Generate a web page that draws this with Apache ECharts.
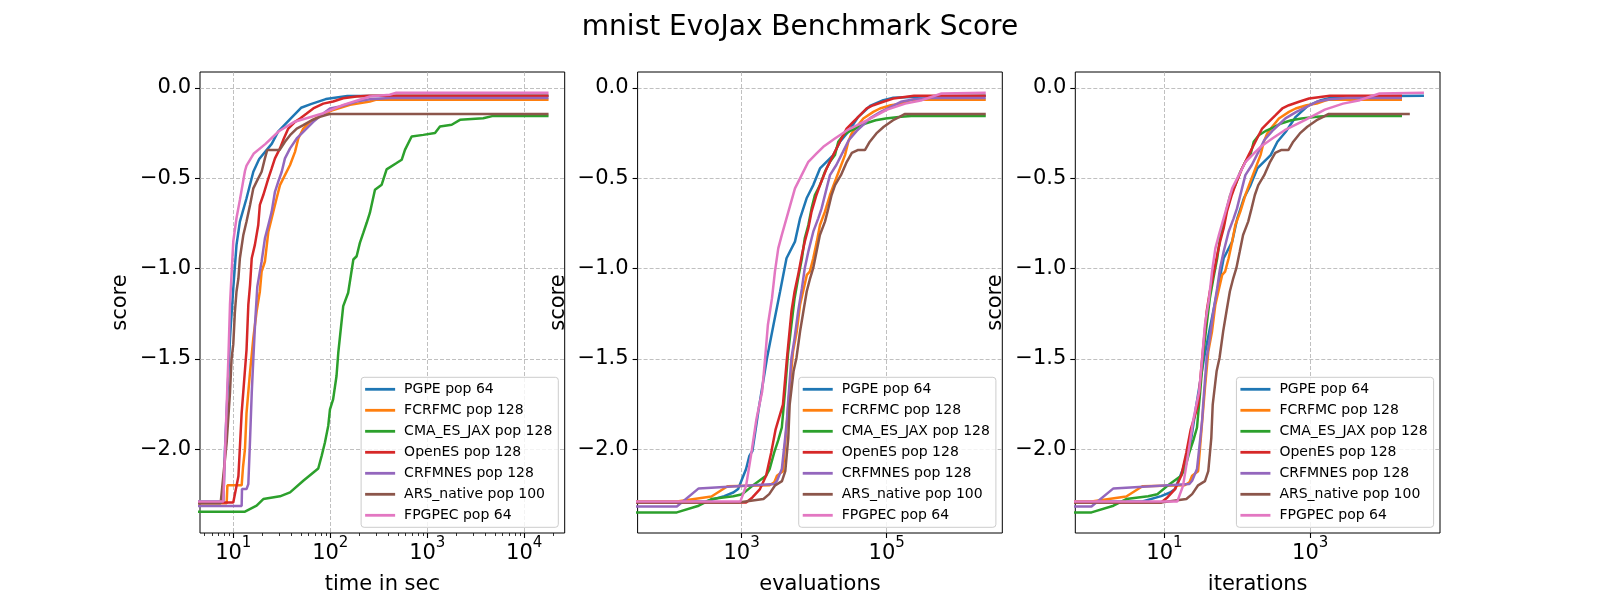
<!DOCTYPE html>
<html lang="en">
<head>
<meta charset="UTF-8">
<title>mnist EvoJax Benchmark Score</title>
<script src="https://cdn.jsdelivr.net/npm/echarts@6/dist/echarts.min.js"></script>
</head>
<body style="margin:0">
<div id="main" style="width:1600px;height:600px;"></div>
<script>
// best score so far
// each run: [time in sec, score] and [iteration, score]; evaluations = iteration * pop
var names = ['PGPE pop 64', 'FCRFMC pop 128', 'CMA_ES_JAX pop 128', 'OpenES pop 128',
             'CRFMNES pop 128', 'ARS_native pop 100', 'FPGPEC pop 64'];
var pops = [64, 128, 128, 128, 128, 100, 64];
var colors = ['#1f77b4', '#ff7f0e', '#2ca02c', '#d62728', '#9467bd', '#8c564b', '#e377c2'];

var pgpeTime = [[0,-2.29],[7.9,-2.29],[8.2,-2.01],[9.25,-1.385],[10,-1.109],[10.8,-0.869],[11.7,-0.74],[13.7,-0.611],[16.1,-0.464],[18.5,-0.394],[24.9,-0.31],[29,-0.242],[39,-0.17],[50,-0.11],[63,-0.09],[90,-0.062],[150,-0.045],[17800,-0.044]];
var pgpeIter = [[0,-2.29],[5,-2.29],[9,-2.26],[12,-2.24],[14,-2.22],[18,-2.11],[20,-2.037],[22,-2.01],[27,-1.772],[35,-1.495],[43,-1.311],[53,-1.127],[65,-0.943],[85,-0.851],[100,-0.722],[123,-0.611],[152,-0.538],[188,-0.446],[287,-0.372],[355,-0.298],[462,-0.243],[634,-0.16],[920,-0.1],[1403,-0.068],[1928,-0.055],[5890,-0.046],[36300,-0.044]];

var fcrfmcTime = [[0,-2.30],[8.55,-2.30],[8.7,-2.20],[12.2,-2.20],[12.6,-2.10],[13.2,-2.0],[13.7,-1.80],[14.9,-1.57],[16.1,-1.385],[17.4,-1.238],[18.8,-1.127],[19.6,-1.017],[21.2,-0.961],[23,-0.796],[24.9,-0.722],[28,-0.611],[30.3,-0.538],[34.1,-0.483],[38.5,-0.427],[43.3,-0.354],[46.8,-0.28],[52.7,-0.225],[61.8,-0.188],[75,-0.16],[107,-0.122],[160,-0.094],[256,-0.075],[300,-0.065],[17800,-0.065]];
var fcrfmcIter = [[0,-2.29],[1,-2.29],[3,-2.262],[5,-2.205],[19,-2.2],[22,-2.184],[24,-2.147],[29,-2.122],[33,-1.845],[36,-1.661],[40,-1.459],[45,-1.348],[50,-1.2],[55,-1.127],[62,-1.035],[68,-1.017],[76,-0.943],[85,-0.851],[94,-0.759],[110,-0.685],[129,-0.593],[151,-0.519],[177,-0.446],[208,-0.372],[231,-0.298],[257,-0.252],[301,-0.215],[372,-0.169],[511,-0.133],[631,-0.114],[891,-0.096],[1225,-0.087],[1679,-0.068],[1820,-0.065],[18150,-0.065]];

var cmaTime = [[0,-2.346],[13.2,-2.346],[17.4,-2.313],[20.4,-2.276],[30.3,-2.261],[38.5,-2.239],[52.7,-2.175],[75.2,-2.107],[81.5,-2.037],[88.1,-1.963],[95.3,-1.871],[99.3,-1.779],[107,-1.724],[116,-1.595],[121,-1.466],[136,-1.208],[153,-1.134],[173,-0.95],[187,-0.932],[202,-0.858],[219,-0.803],[237,-0.748],[256,-0.692],[289,-0.564],[339,-0.536],[381,-0.451],[483,-0.416],[545,-0.398],[589,-0.343],[690,-0.269],[910,-0.26],[1202,-0.25],[1352,-0.214],[1786,-0.204],[2173,-0.177],[3776,-0.168],[4786,-0.155],[17800,-0.155]];
var cmaIter = [[0,-2.35],[1,-2.35],[2,-2.313],[3,-2.276],[6,-2.261],[8,-2.249],[11,-2.203],[17,-2.147],[19,-2.11],[22,-2.018],[25,-1.95],[28,-1.88],[31,-1.68],[34,-1.477],[38,-1.311],[42,-1.164],[47,-1.054],[53,-0.943],[58,-0.833],[65,-0.759],[72,-0.667],[80,-0.593],[94,-0.538],[110,-0.464],[129,-0.409],[151,-0.372],[168,-0.298],[197,-0.262],[251,-0.236],[309,-0.22],[398,-0.197],[550,-0.179],[759,-0.169],[1230,-0.16],[1700,-0.155],[18150,-0.155]];

var openesTime = [[0,-2.295],[10,-2.295],[10.4,-2.285],[11.3,-2.15],[12.2,-1.8],[13.7,-1.45],[14.3,-1.2],[14.9,-1.09],[15.5,-0.943],[16.7,-0.869],[18.1,-0.759],[18.8,-0.648],[20.4,-0.593],[23,-0.501],[24.9,-0.446],[26.9,-0.39],[30.3,-0.335],[32.7,-0.289],[36.9,-0.225],[43.3,-0.188],[48.8,-0.169],[57.1,-0.142],[66.8,-0.114],[84.7,-0.087],[107,-0.075],[136,-0.057],[187,-0.048],[250,-0.044],[17800,-0.044]];
var openesIter = [[0,-2.295],[9,-2.295],[11,-2.267],[14,-2.221],[17,-2.147],[20,-2.018],[23,-1.89],[29,-1.753],[33,-1.495],[38,-1.238],[42,-1.127],[47,-1.035],[53,-0.924],[58,-0.851],[65,-0.777],[72,-0.685],[84,-0.593],[94,-0.538],[116,-0.446],[143,-0.372],[177,-0.298],[219,-0.225],[270,-0.188],[335,-0.151],[414,-0.114],[511,-0.096],[702,-0.077],[964,-0.059],[1862,-0.044],[18150,-0.044]];

var crfmnesTime = [[0,-2.315],[12.2,-2.315],[12.3,-2.221],[13.7,-2.221],[14.3,-2.193],[14.9,-1.945],[15.5,-1.69],[16.1,-1.5],[16.8,-1.3],[17.7,-1.1],[18.8,-1.017],[19.6,-0.961],[21.2,-0.833],[23,-0.759],[24.9,-0.685],[26.9,-0.575],[29.1,-0.519],[31.6,-0.464],[34.1,-0.39],[38.5,-0.335],[45.1,-0.28],[52.7,-0.243],[66.8,-0.188],[84.7,-0.142],[99.3,-0.114],[126,-0.103],[187,-0.075],[256,-0.063],[412,-0.056],[17800,-0.056]];
var crfmnesIter = [[0,-2.317],[1,-2.317],[2,-2.217],[22,-2.193],[24,-2.175],[28,-2.11],[31,-1.945],[33,-1.834],[34,-1.753],[38,-1.495],[42,-1.385],[47,-1.238],[53,-1.109],[58,-0.998],[65,-0.906],[76,-0.796],[89,-0.722],[99,-0.667],[116,-0.556],[129,-0.483],[158,-0.427],[195,-0.354],[234,-0.29],[302,-0.238],[380,-0.2],[457,-0.169],[646,-0.133],[891,-0.105],[1225,-0.077],[1862,-0.063],[3162,-0.056],[18150,-0.056]];

var arsTime = [[0,-2.30],[7.4,-2.30],[7.6,-2.24],[7.9,-2.147],[8.55,-1.963],[9.25,-1.687],[9.6,-1.5],[10,-1.42],[10.4,-1.238],[10.8,-1.127],[11.3,-1.054],[11.7,-0.943],[12.7,-0.814],[13.7,-0.74],[14.9,-0.648],[16.1,-0.556],[17.4,-0.519],[19.6,-0.464],[21.2,-0.39],[22.4,-0.344],[30,-0.344],[34.1,-0.298],[38.5,-0.262],[45.1,-0.225],[52.7,-0.206],[64.3,-0.179],[78.3,-0.16],[92,-0.149],[99.3,-0.145],[17800,-0.145]];
var arsIter = [[0,-2.295],[9,-2.295],[20,-2.276],[24,-2.249],[29,-2.20],[36,-2.177],[40,-2.122],[44,-1.937],[46,-1.753],[52,-1.569],[57,-1.495],[64,-1.348],[71,-1.238],[79,-1.127],[88,-1.054],[97,-0.998],[108,-0.906],[120,-0.814],[141,-0.74],[157,-0.667],[174,-0.593],[194,-0.538],[234,-0.483],[282,-0.409],[331,-0.36],[398,-0.344],[501,-0.344],[585,-0.298],[721,-0.252],[912,-0.215],[1225,-0.179],[1507,-0.16],[1766,-0.145],[23230,-0.145]];

var fpgpecTime = [[0,-2.29],[7.9,-2.29],[8.2,-2.03],[8.9,-1.5],[9.25,-1.2],[10,-0.85],[10.8,-0.72],[11.7,-0.62],[13.2,-0.46],[13.7,-0.43],[16.3,-0.363],[21.5,-0.31],[29.5,-0.24],[43,-0.187],[85,-0.14],[136,-0.094],[256,-0.048],[410,-0.038],[480,-0.027],[17800,-0.027]];
var fpgpecIter = [[0,-2.29],[15,-2.29],[18,-2.203],[21,-2.037],[25,-1.834],[30,-1.68],[33,-1.495],[36,-1.311],[41,-1.164],[45,-1.017],[50,-0.888],[56,-0.814],[69,-0.685],[85,-0.556],[105,-0.483],[130,-0.409],[169,-0.363],[209,-0.326],[302,-0.28],[447,-0.234],[832,-0.18],[1585,-0.12],[2818,-0.087],[4786,-0.068],[8913,-0.031],[36300,-0.027]];

var timeRuns = [pgpeTime, fcrfmcTime, cmaTime, openesTime, crfmnesTime, arsTime, fpgpecTime];
var iterRuns = [pgpeIter, fcrfmcIter, cmaIter, openesIter, crfmnesIter, arsIter, fpgpecIter];

// ticks
var scoreTicks = [-2.0, -1.5, -1.0, -0.5, 0.0];
var timeTicks = [10, 100, 1000, 10000];
var timeMinorTicks = [5, 6, 7, 8, 9, 20, 30, 40, 50, 60, 70, 80, 90, 200, 300, 400, 500, 600, 700, 800, 900,
                      2000, 3000, 4000, 5000, 6000, 7000, 8000, 9000, 20000];
var evalTicks = [1000, 100000];
var iterTicks = [10, 1000];

// log10 extents of the three x axes, and the score range
var timeRange = [0.657, 4.417];
var evalRange = [1.566, 6.594];
var iterRange = [-0.222, 4.78];
var scoreRange = [-2.464, 0.088];

var font = 'DejaVu Sans';
var gridLefts = [200, 637.6, 1075.3];
var gridW = 364.7;

// x is plotted as log10 on a value axis; x <= 0 is clipped to the left edge like matplotlib
function logData(pairs, mult, xmin) {
    return pairs.map(function (p) {
        var x = p[0] * mult;
        return [x > 0 ? Math.log10(x) : xmin - 1, p[1]];
    });
}

function xAxisFor(g, range, ticks, name) {
    var logTicks = ticks.map(function (t) { return Math.log10(t); });
    return {
        type: 'value', gridIndex: g, min: range[0], max: range[1], position: 'bottom',
        name: name, nameLocation: 'middle', nameGap: 41,
        nameTextStyle: { fontSize: 21, color: '#000', fontFamily: font },
        axisLine: { show: false, onZero: false },
        axisTick: { show: true, length: 5, customValues: logTicks, lineStyle: { color: '#000', width: 1.1 } },
        axisLabel: {
            customValues: logTicks, margin: 3, color: '#000',
            formatter: function (v) { return '{b|10}{s|' + Math.round(v) + '}'; },
            rich: {
                b: { fontSize: 21, fontFamily: font, color: '#000', lineHeight: 28, verticalAlign: 'bottom' },
                s: { fontSize: 15, fontFamily: font, color: '#000', lineHeight: 16, verticalAlign: 'top' }
            }
        },
        splitLine: { show: true, lineStyle: { color: '#b0b0b0', width: 0.8, type: [4, 2] } }
    };
}

function yAxisFor(g) {
    return {
        type: 'value', gridIndex: g, min: scoreRange[0], max: scoreRange[1], position: 'left',
        name: 'score', nameLocation: 'middle', nameGap: 69,
        nameTextStyle: { fontSize: 21, color: '#000', fontFamily: font },
        axisLine: { show: false, onZero: false },
        axisTick: { show: true, length: 5, customValues: scoreTicks, lineStyle: { color: '#000', width: 1.1 } },
        axisLabel: {
            customValues: scoreTicks, margin: 9, color: '#000', fontSize: 21, fontFamily: font,
            formatter: function (v) { return v.toFixed(1).replace('-', '\u2212'); }
        },
        splitLine: { show: true, lineStyle: { color: '#b0b0b0', width: 0.8, type: [4, 2] } }
    };
}

var xAxes = [
    xAxisFor(0, timeRange, timeTicks, 'time in sec'),
    xAxisFor(1, evalRange, evalTicks, 'evaluations'),
    xAxisFor(2, iterRange, iterTicks, 'iterations'),
    {   // minor log ticks on the time axis
        type: 'value', gridIndex: 0, min: timeRange[0], max: timeRange[1], position: 'bottom',
        axisLine: { show: false, onZero: false }, axisLabel: { show: false }, splitLine: { show: false },
        axisTick: { show: true, length: 3, customValues: timeMinorTicks.map(function (t) { return Math.log10(t); }),
                    lineStyle: { color: '#000', width: 0.8 } }
    }
];

var series = [];
var ranges = [timeRange, evalRange, iterRange];
for (var g = 0; g < 3; g++) {
    for (var i = 0; i < names.length; i++) {
        var d;
        if (g === 0) d = logData(timeRuns[i], 1, ranges[g][0]);
        else if (g === 1) d = logData(iterRuns[i], pops[i], ranges[g][0]);
        else d = logData(iterRuns[i], 1, ranges[g][0]);
        series.push({
            name: names[i], type: 'line', xAxisIndex: g, yAxisIndex: g,
            data: d, showSymbol: false, symbol: 'none', clip: true,
            lineStyle: { width: 2.5, color: colors[i] },
            itemStyle: { color: colors[i] },
            emphasis: { disabled: true }
        });
    }
}

var legends = gridLefts.map(function (left) {
    return {
        orient: 'vertical', right: 1600 - (left + gridW - 6.4), bottom: 72.7,
        icon: 'rect', itemWidth: 30, itemHeight: 2.8, itemGap: 7,
        data: names, selectedMode: false,
        backgroundColor: 'rgba(255,255,255,0.8)', borderColor: '#cccccc', borderWidth: 1, borderRadius: 3,
        padding: [5, 6, 5, 4],
        textStyle: { fontSize: 14, fontFamily: font, color: '#000', padding: [0, 0, 0, 4] }
    };
});

var chart = echarts.init(document.getElementById('main'));
chart.setOption({
    animation: false,
    backgroundColor: '#fff',
    title: {
        text: 'mnist EvoJax Benchmark Score', left: 'center', top: 9,
        textStyle: { fontSize: 28, fontWeight: 'normal', fontFamily: font, color: '#000' }
    },
    grid: gridLefts.map(function (left) {
        return { left: left, top: 72, width: gridW, height: 462, show: true,
                 borderColor: '#000', borderWidth: 1, backgroundColor: 'transparent' };
    }),
    legend: legends,
    xAxis: xAxes,
    yAxis: [yAxisFor(0), yAxisFor(1), yAxisFor(2)],
    series: series
});
</script>
</body>
</html>
